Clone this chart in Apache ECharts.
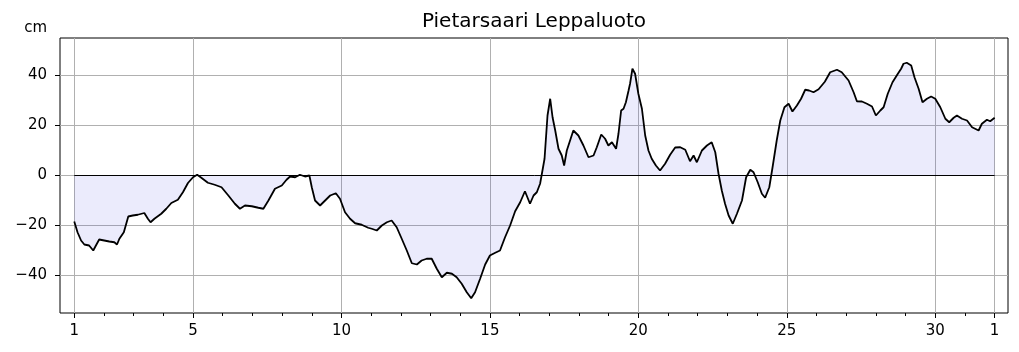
<!DOCTYPE html>
<html>
<head>
<meta charset="utf-8">
<title>Pietarsaari Leppaluoto</title>
<script src="https://cdn.jsdelivr.net/npm/echarts@6/dist/echarts.min.js"></script>
<style>
  html, body { margin: 0; padding: 0; background: #fff; }
  #chart { width: 1019px; height: 352px; }
</style>
</head>
<body>
<div id="chart"></div>
<script>
// sea level readings (day of month, cm)
const days = [
  1.00, 1.11, 1.23, 1.34, 1.50, 1.64, 1.73, 1.84, 2.01, 2.18, 2.35, 2.44, 2.52, 2.67, 2.82, 2.97,
  3.14, 3.36, 3.48, 3.57, 3.70, 3.93, 4.10, 4.27, 4.49, 4.66, 4.83, 5.00, 5.14, 5.28, 5.50, 5.73,
  5.96, 6.19, 6.41, 6.58, 6.75, 6.98, 7.20, 7.37, 7.54, 7.76, 7.99, 8.15, 8.27, 8.44, 8.60, 8.77,
  8.92, 9.00, 9.11, 9.28, 9.45, 9.62, 9.81, 9.95, 10.12, 10.29, 10.46, 10.68, 10.90, 11.02, 11.19, 11.36,
  11.53, 11.69, 11.86, 12.03, 12.20, 12.37, 12.54, 12.70, 12.87, 13.04, 13.21, 13.38, 13.55, 13.72, 13.88, 14.05,
  14.22, 14.37, 14.50, 14.67, 14.84, 15.00, 15.18, 15.34, 15.51, 15.68, 15.85, 16.02, 16.18, 16.35, 16.47, 16.58,
  16.69, 16.77, 16.84, 16.94, 17.03, 17.11, 17.20, 17.31, 17.42, 17.50, 17.59, 17.70, 17.81, 17.98, 18.15, 18.32,
  18.49, 18.60, 18.75, 18.88, 18.99, 19.11, 19.25, 19.33, 19.42, 19.50, 19.58, 19.67, 19.72, 19.80, 19.89, 20.00,
  20.12, 20.23, 20.34, 20.45, 20.59, 20.73, 20.90, 21.07, 21.24, 21.41, 21.58, 21.74, 21.86, 21.97, 22.14, 22.31,
  22.47, 22.59, 22.70, 22.81, 22.92, 23.04, 23.18, 23.32, 23.49, 23.63, 23.77, 23.88, 24.02, 24.16, 24.27, 24.41,
  24.52, 24.66, 24.78, 24.92, 25.06, 25.19, 25.34, 25.48, 25.62, 25.75, 25.90, 26.07, 26.28, 26.46, 26.69, 26.85,
  27.08, 27.25, 27.36, 27.53, 27.70, 27.87, 28.00, 28.15, 28.26, 28.40, 28.56, 28.74, 28.85, 28.93, 29.04, 29.19,
  29.30, 29.44, 29.57, 29.72, 29.86, 30.00, 30.17, 30.34, 30.47, 30.62, 30.73, 30.90, 31.07, 31.24, 31.46, 31.57,
  31.74, 31.85, 32.00
]
const levels = [
  -18.4, -22.7, -26, -27.6, -28, -30, -28, -25.6, -26, -26.4, -26.7, -27.6, -25.3, -22.7, -16.4, -16,
  -15.7, -15, -17.3, -18.7, -17.3, -15.3, -13.3, -11, -9.7, -6.7, -3, -0.7, 0.3, -0.9, -2.9, -3.7,
  -4.7, -8, -11.3, -13.3, -12, -12.3, -12.9, -13.3, -10, -5.3, -4, -1.7, -0.4, -0.7, 0.3, -0.4,
  0, -4.7, -10, -12, -10, -8, -7.1, -9.3, -14.7, -17.3, -19.1, -19.7, -20.9, -21.3, -22, -20,
  -18.7, -18, -20.7, -25.3, -30, -35.1, -35.6, -34, -33.3, -33.3, -37.3, -40.7, -38.9, -39.3, -40.7, -43.3,
  -46.7, -49.1, -46.7, -41.3, -35.6, -32, -30.9, -30, -24.7, -20, -14.3, -10.7, -6.3, -11.3, -8, -6.7,
  -3.3, 2, 6.7, 24, 30.7, 23.3, 18, 10.7, 8, 4, 10, 14, 18, 16, 12, 7.3,
  8, 11.3, 16.4, 14.7, 12, 13.3, 10.7, 16.7, 26, 26.7, 29.3, 34, 36.7, 42.7, 40.7, 32.7,
  26.7, 16, 10, 6.7, 4, 2, 4.7, 8.3, 11.2, 11.3, 10.3, 5.7, 8, 5.3, 10, 12,
  13.3, 9.3, 0.7, -6, -11.3, -16, -19.3, -15.3, -10, -0.7, 2.3, 1.3, -2.7, -7.3, -8.9, -4.7,
  3.3, 14, 22, 27.3, 28.7, 25.6, 28, 30.7, 34.3, 34, 33.3, 34.5, 37.5, 41.3, 42.3, 41.3,
  38, 33.3, 29.7, 29.6, 28.7, 27.6, 24, 26, 27.3, 32.7, 37.3, 40.7, 42.7, 44.7, 45.1, 44,
  39.3, 34.7, 29.3, 30.7, 31.6, 30.7, 27.3, 22.7, 21.3, 23.1, 24, 22.7, 22, 19.3, 18, 20.7,
  22.3, 21.7, 23.1
]

// axis ticks (day 32 is the 1st of the next month)
const labelDays = [1, 5, 10, 15, 20, 25, 30, 32]
const minorDays = [2, 3, 4, 6, 7, 8, 9, 11, 12, 13, 14, 16, 17, 18, 19, 21, 22, 23, 24, 26, 27, 28, 29, 31]
const levelTicks = [-40, -20, 0, 20, 40]

const font = 'DejaVu Sans'
const chart = echarts.init(document.getElementById('chart'), null, { renderer: 'canvas' })

const seaData = days.map((d, i) => [d, levels[i]])
const zeroData = [[days[0], 0], [days[days.length - 1], 0]]

const option = {
  animation: false,
  backgroundColor: '#fff',
  title: {
    text: 'Pietarsaari Leppaluoto',
    left: 529,
    top: 7,
    textAlign: 'center',
    textStyle: { fontFamily: font, fontSize: 20, fontWeight: 'normal', color: '#000' }
  },
  grid: {
    left: 60,
    top: 38,
    width: 948,
    height: 275,
    show: true,
    borderColor: '#000',
    borderWidth: 1,
    backgroundColor: 'transparent'
  },
  xAxis: [
    {
      type: 'value',
      min: 0.52,
      max: 32.45,
      position: 'bottom',
      axisLine: { show: false, onZero: false },
      axisTick: { show: true, customValues: labelDays, length: 5, lineStyle: { color: '#000' } },
      axisLabel: {
        customValues: labelDays,
        formatter: v => (v === 32 ? '1' : String(v)),
        margin: 11,
        color: '#000',
        fontFamily: font,
        fontSize: 15
      },
      splitLine: { show: true, lineStyle: { color: '#b0b0b0', width: 1 } }
    },
    {
      type: 'value',
      min: 0.52,
      max: 32.45,
      position: 'bottom',
      axisLine: { show: false, onZero: false },
      axisTick: { show: true, customValues: minorDays, length: 3, lineStyle: { color: '#000' } },
      axisLabel: { show: false },
      splitLine: { show: false }
    }
  ],
  yAxis: {
    type: 'value',
    min: -55,
    max: 55,
    name: 'cm',
    nameLocation: 'end',
    nameGap: 2,
    nameTextStyle: { fontFamily: font, fontSize: 15, color: '#000', align: 'right', padding: [0, 13, 0, 0] },
    axisLine: { show: false, onZero: false },
    axisTick: { show: true, customValues: levelTicks, length: 5, lineStyle: { color: '#000' } },
    axisLabel: {
      customValues: levelTicks,
      formatter: v => (v < 0 ? '\u2212' + Math.abs(v) : String(v)),
      margin: 13,
      color: '#000',
      fontFamily: font,
      fontSize: 15
    },
    splitLine: { show: true, lineStyle: { color: '#b0b0b0', width: 1 } }
  },
  series: [
    {
      name: 'Vedenkorkeus',
      type: 'line',
      data: seaData,
      symbol: 'none',
      lineStyle: { color: '#000', width: 1.8 },
      areaStyle: { color: 'rgba(30, 30, 220, 0.13)', origin: 0 },
      z: 3
    },
    {
      name: 'zero',
      type: 'line',
      data: zeroData,
      symbol: 'none',
      lineStyle: { color: '#000', width: 1 },
      z: 4
    }
  ]
}

chart.setOption(option)
</script>
</body>
</html>
